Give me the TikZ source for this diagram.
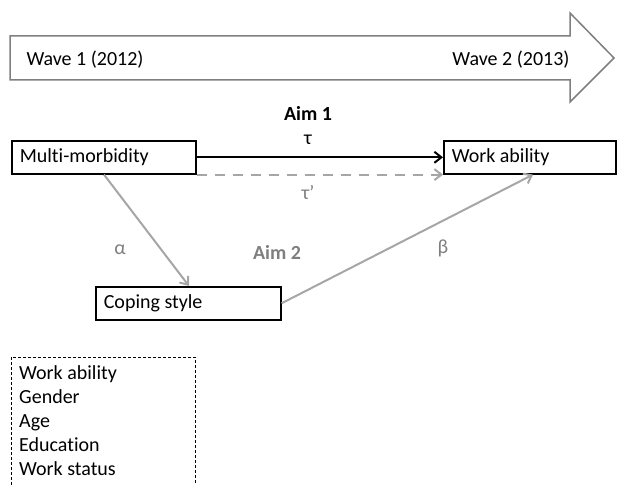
\documentclass[tikz,border=0pt]{standalone}
\usepackage{fontspec}
\setmainfont[Ligatures=NoCommon]{Carlito}
\usetikzlibrary{arrows.meta}
\definecolor{lg}{HTML}{A6A6A6}
\definecolor{dg}{HTML}{7F7F7F}
\begin{document}
\begin{tikzpicture}[x=1pt,y=-1pt,
  every node/.style={font=\fontsize{20}{24}\selectfont},
  vbox/.style={draw=black,line width=1.6pt,minimum height=33pt,anchor=north west,inner xsep=8pt,inner ysep=0pt},
  garr/.style={draw=lg,line width=2pt,-{Straight Barb[length=7pt,width=11pt]}}]
\useasboundingbox (0,0) rectangle (617,484);
% timeline arrow
\draw[dg,line width=1.5pt,fill=white] (10,36) -- (570,36) -- (570,13) -- (614,58) -- (570,102) -- (570,80) -- (10,80) -- cycle;
\node[anchor=west] (w1) at (23,60) {Wave 1 (2012)};
\node[anchor=east] (w2) at (573,60) {Wave 2 (2013)};
% boxes
\node[vbox] (mm) at (11,140) {\makebox[168pt][l]{Multi-morbidity}};
\node[vbox] (wa) at (443,140) {\makebox[156pt][l]{Work ability}};
\node[vbox] (cs) at (95,286) {\makebox[169pt][l]{Coping style}};
% labels
\node[font=\fontsize{20}{24}\selectfont\bfseries] (aim1) at (308,113) {Aim 1};
\node (tau) at (308,140) {τ};
\node[text=dg] (taup) at (308,192) {τ{\char"27}};
\node[text=dg] (alpha) at (120,250) {α};
\node[text=dg,font=\fontsize{20}{24}\selectfont\bfseries] (aim2) at (277,252) {Aim 2};
\node[text=dg] (beta) at (443,248) {β};
% arrows
\draw[line width=2pt,-{Straight Barb[length=7pt,width=11pt]}] (mm.east) -- (wa.west);
\draw[garr,dashed,dash pattern=on 10pt off 8pt] (mm.south east) -- (wa.south west);
\coordinate (mmb) at ([xshift=93pt]mm.south west);
\coordinate (cst) at ([xshift=94pt]cs.north west);
\draw[garr] (mmb) -- (cst);
\coordinate (wab) at ([xshift=90pt]wa.south west);
\draw[garr] (cs.east) -- (wab);
% covariates box (open at bottom)
\draw[dashed,line width=0.8pt,dash pattern=on 3pt off 2pt] (11,490) -- (11,357) -- (195,357) -- (195,490);
\node[anchor=north west,align=left,inner sep=0pt,font=\fontsize{20}{24}\selectfont] (cov) at (19,365) {Work ability\\Gender\\Age\\Education\\Work status};
\end{tikzpicture}
\end{document}
